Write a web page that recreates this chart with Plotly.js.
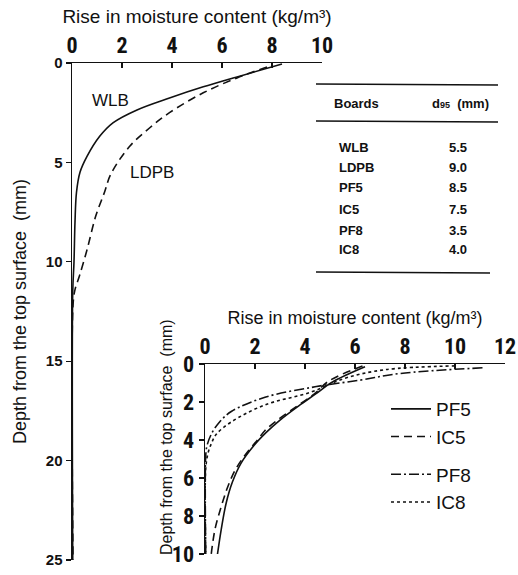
<!DOCTYPE html>
<html><head><meta charset="utf-8">
<script src="https://cdn.plot.ly/plotly-3.0.1.min.js"></script>
<style>body{margin:0;background:#fff}#c{width:518px;height:575px}</style>
</head><body><div id="c"></div>
<script>
// Main chart (WLB, LDPB)
const wlbDepth = [0.05,0.7,1.2,1.76,2.36,3.0,3.7,4.7,5.5,6.5,8,10,11.5,25];
const wlbRise  = [8.4,6.6,5.25,3.9,2.6,1.65,1.1,0.6,0.32,0.18,0.12,0.08,0.03,0.03];
const ldpbDepth = [0.2,0.75,1.5,2.5,3.27,4.2,5.6,6.5,7.7,9.4,10.7,11.4,12.2,25];
const ldpbRise  = [7.8,6.6,5.25,3.9,3.1,2.3,1.55,1.3,0.95,0.6,0.3,0.12,0.04,0.04];
// Inset chart
const pf5Depth = [0.15,0.95,1.6,2.2,2.95,3.6,4.3,5.2,6.2,7.3,8.7,10];
const pf5Rise  = [6.4,5.1,4.4,3.75,3.0,2.45,1.95,1.45,1.1,0.85,0.65,0.5];
const ic5Depth = [0.1,0.9,1.6,2.2,2.95,3.5,4.0,4.8,5.6,6.5,7.5,8.7,10];
const ic5Rise  = [6.3,4.95,4.35,3.7,2.9,2.4,2.1,1.6,1.2,0.9,0.65,0.4,0.25];
const pf8Depth = [0.2,0.5,0.85,1.2,1.75,2.5,3.1,3.7,4.3,4.8,10];
const pf8Rise  = [11.1,7.8,6.2,4.4,2.4,1.05,0.55,0.25,0.08,0.03,0.03];
const ic8Depth = [0.1,0.3,0.75,1.5,2.15,3.05,3.7,4.2,4.7,5.5,10];
const ic8Rise  = [10.0,7.2,5.6,4.2,2.4,1.05,0.45,0.25,0.12,0.03,0.03];
// Table
const boards = ["WLB","LDPB","PF5","IC5","PF8","IC8"];
const d95 = ["5.5","9.0","8.5","7.5","3.5","4.0"];

const narrow = "Liberation Sans Narrow, Roboto Condensed, DejaVu Sans Condensed, Arial Narrow, sans-serif";
const sans = "Liberation Sans, Arial, sans-serif";
const lw = 1.6;

const traces = [
  {x: wlbRise, y: wlbDepth, xaxis:'x', yaxis:'y', mode:'lines', line:{color:'#111',width:lw,shape:'spline'}, showlegend:false, name:'WLB'},
  {x: ldpbRise, y: ldpbDepth, xaxis:'x', yaxis:'y', mode:'lines', line:{color:'#111',width:lw,dash:'8px,5px',shape:'spline'}, showlegend:false, name:'LDPB'},
  {x: pf5Rise, y: pf5Depth, xaxis:'x2', yaxis:'y2', mode:'lines', line:{color:'#111',width:lw,shape:'spline'}, name:'PF5', legendgroup:'a'},
  {x: ic5Rise, y: ic5Depth, xaxis:'x2', yaxis:'y2', mode:'lines', line:{color:'#111',width:lw,dash:'8px,5px',shape:'spline'}, name:'IC5', legendgroup:'a'},
  {x: pf8Rise, y: pf8Depth, xaxis:'x2', yaxis:'y2', mode:'lines', line:{color:'#111',width:lw,dash:'10px,3px,2px,3px',shape:'spline'}, name:'PF8', legendgroup:'b'},
  {x: ic8Rise, y: ic8Depth, xaxis:'x2', yaxis:'y2', mode:'lines', line:{color:'#111',width:lw,dash:'3px,3px',shape:'spline'}, name:'IC8', legendgroup:'b'}
];

const W = 518, H = 575;
const px = v => v / W, py = v => 1 - v / H;

const annotations = [
  {text:'WLB', x:1.52, y:1.9, xref:'x', yref:'y', showarrow:false, xanchor:'center', yanchor:'middle', font:{family:sans,size:17,color:'#111'}},
  {text:'LDPB', x:3.2, y:5.5, xref:'x', yref:'y', showarrow:false, xanchor:'center', yanchor:'middle', font:{family:sans,size:17,color:'#111'}},
  {text:'Depth from the top surface  (mm)', x:px(166), y:py(437), xref:'paper', yref:'paper', xanchor:'center', yanchor:'middle', textangle:-90, showarrow:false, font:{family:sans,size:16,color:'#111'}},
  {text:'Boards', x:px(332), y:py(103), xref:'paper', yref:'paper', xanchor:'left', yanchor:'middle', showarrow:false, font:{family:sans,size:13,color:'#111',weight:'bold'}},
  {text:'d<span style="font-size:9px">95</span>  (mm)', x:px(430), y:py(103), xref:'paper', yref:'paper', xanchor:'left', yanchor:'middle', showarrow:false, font:{family:sans,size:13,color:'#111',weight:'bold'}}
];
const rowY = [147,167,188,209,230,250];
boards.forEach((b,i)=>{
  annotations.push({text:b, x:px(337), y:py(rowY[i]), xref:'paper', yref:'paper', xanchor:'left', yanchor:'middle', showarrow:false, font:{family:sans,size:13,color:'#111',weight:'bold'}});
  annotations.push({text:d95[i], x:px(447), y:py(rowY[i]), xref:'paper', yref:'paper', xanchor:'left', yanchor:'middle', showarrow:false, font:{family:sans,size:13,color:'#111',weight:'bold'}});
});

const shapes = [
  {type:'line', xref:'paper', yref:'paper', x0:px(316), x1:px(498), y0:py(84), y1:py(85), line:{color:'#111',width:1.3}},
  {type:'line', xref:'paper', yref:'paper', x0:px(316), x1:px(498), y0:py(121), y1:py(122), line:{color:'#111',width:1.3}},
  {type:'line', xref:'paper', yref:'paper', x0:px(316), x1:px(490), y0:py(272), y1:py(273), line:{color:'#111',width:1.3}}
];

const axCommon = {showgrid:false, zeroline:false, showline:true, linecolor:'#111', linewidth:1.5, tickcolor:'#111', ticklen:5, tickwidth:1.3};

const layout = {
  width: W, height: H,
  margin:{l:0,r:0,t:0,b:0},
  paper_bgcolor:'#fff', plot_bgcolor:'rgba(0,0,0,0)',
  xaxis: Object.assign({}, axCommon, {domain:[px(72),px(322)], range:[0,10], side:'top', anchor:'y', ticks:'inside', dtick:2,
    tickfont:{family:narrow,size:22,color:'#111',weight:'bold'},
    title:{text:'Rise in moisture content (kg/m³)', font:{family:sans,size:19,color:'#111'}, standoff:4}}),
  yaxis: Object.assign({}, axCommon, {domain:[py(560),py(63)], range:[25,0], anchor:'x', ticks:'outside', dtick:5,
    tickfont:{family:sans,size:15,color:'#111',weight:'bold'},
    title:{text:'Depth from the top surface  (mm)', font:{family:sans,size:18,color:'#111'}, standoff:14}}),
  xaxis2: Object.assign({}, axCommon, {domain:[px(205),px(505)], range:[0,12], side:'top', anchor:'y2', ticks:'inside', dtick:2,
    tickfont:{family:narrow,size:22,color:'#111',weight:'bold'},
    title:{text:'Rise in moisture content (kg/m³)', font:{family:sans,size:18,color:'#111'}, standoff:4}}),
  yaxis2: Object.assign({}, axCommon, {domain:[py(554),py(364)], range:[10,0], anchor:'x2', ticks:'outside', dtick:2,
    tickfont:{family:narrow,size:22,color:'#111',weight:'bold'}}),
  showlegend:true,
  legend:{x:px(386), y:py(390), xanchor:'left', yanchor:'top', bgcolor:'rgba(0,0,0,0)', font:{family:sans,size:19,color:'#111'}, tracegroupgap:10, itemwidth:40},
  annotations, shapes
};

Plotly.newPlot('c', traces, layout, {displayModeBar:false, staticPlot:true});
</script></body></html>
